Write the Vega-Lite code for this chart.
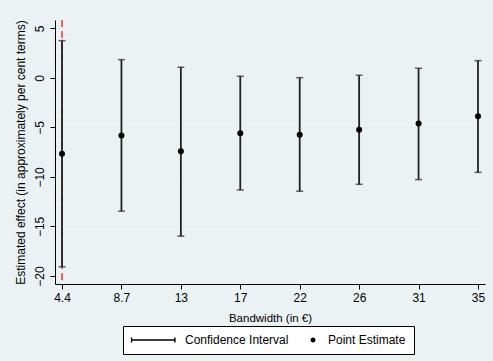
{
  "$schema": "https://vega.github.io/schema/vega-lite/v6.json",
  "width": 430,
  "height": 264,
  "autosize": {"type": "none"},
  "padding": {"left": 55, "top": 20, "right": 8, "bottom": 77},
  "background": "#EAF2F3",
  "config": {
    "view": {"fill": "white", "stroke": null},
    "font": "Liberation Sans",
    "axis": {
      "domainColor": "#000000",
      "domainWidth": 1,
      "tickColor": "#000000",
      "tickSize": 5,
      "labelColor": "#000000",
      "titleColor": "#000000",
      "labelFontSize": 12,
      "titleFontSize": 11.5,
      "titleFontWeight": "normal"
    }
  },
  "data": {
    "values": [
      {"bw": "4.4", "est": -7.65, "lo": -19.07, "hi": 3.76},
      {"bw": "8.7", "est": -5.81, "lo": -13.46, "hi": 1.84},
      {"bw": "13", "est": -7.42, "lo": -15.98, "hi": 1.07},
      {"bw": "17", "est": -5.58, "lo": -11.32, "hi": 0.16},
      {"bw": "22", "est": -5.74, "lo": -11.45, "hi": 0.02},
      {"bw": "26", "est": -5.24, "lo": -10.75, "hi": 0.26},
      {"bw": "31", "est": -4.6, "lo": -10.27, "hi": 0.97},
      {"bw": "35", "est": -3.87, "lo": -9.54, "hi": 1.74}
    ]
  },
  "layer": [
    {
      "data": {"values": [{"bw": "4.4"}]},
      "mark": {"type": "rule", "color": "#FF0000", "strokeDash": [7, 4], "strokeWidth": 1.2},
      "encoding": {
        "x": {
          "field": "bw", "type": "ordinal", "sort": null,
          "scale": {"type": "point", "padding": 0.118, "domain": ["4.4", "8.7", "13", "17", "22", "26", "31", "35"]},
          "axis": {"title": "Bandwidth (in €)", "labelAngle": 0, "labelPadding": 3, "titlePadding": 9, "grid": false}
        }
      }
    },
    {
      "mark": {"type": "rule", "color": "#222222", "strokeWidth": 1.8},
      "encoding": {
        "x": {"field": "bw", "type": "ordinal", "sort": null},
        "y": {
          "field": "lo", "type": "quantitative",
          "scale": {"domain": [-20.81, 5.84], "nice": false, "zero": false},
          "axis": {
            "title": "Estimated effect (in approximately per cent terms)",
            "titleFontSize": 12,
            "values": [-20, -15, -10, -5, 0, 5],
            "labelAngle": 270, "labelAlign": "center", "labelBaseline": "bottom",
            "labelPadding": 4, "titlePadding": 6,
            "grid": true, "gridColor": "#E6EEF0", "gridWidth": 1
          }
        },
        "y2": {"field": "hi"}
      }
    },
    {
      "mark": {"type": "tick", "color": "#222222", "size": 7, "thickness": 1.5, "orient": "horizontal"},
      "encoding": {
        "x": {"field": "bw", "type": "ordinal", "sort": null},
        "y": {"field": "lo", "type": "quantitative"}
      }
    },
    {
      "mark": {"type": "tick", "color": "#222222", "size": 7, "thickness": 1.5, "orient": "horizontal"},
      "encoding": {
        "x": {"field": "bw", "type": "ordinal", "sort": null},
        "y": {"field": "hi", "type": "quantitative"}
      }
    },
    {
      "mark": {"type": "point", "filled": true, "color": "#000000", "size": 36, "opacity": 1},
      "encoding": {
        "x": {"field": "bw", "type": "ordinal", "sort": null},
        "y": {"field": "est", "type": "quantitative"}
      }
    },
    {
      "transform": [{"filter": "false"}, {"calculate": "'Point Estimate'", "as": "series"}],
      "mark": {"type": "point", "filled": true, "color": "#000000", "opacity": 1},
      "encoding": {
        "shape": {
          "field": "series", "type": "nominal",
          "scale": {
            "domain": ["Confidence Interval", "Point Estimate"],
            "range": [
              "M-7,-0.12H1V0.12H-7ZM-7,-0.45H-6.75V0.45H-7ZM0.75,-0.45H1V0.45H0.75Z",
              "M0.45,0A0.45,0.45 0 1,1 -0.45,0A0.45,0.45 0 1,1 0.45,0Z"
            ]
          },
          "legend": {
            "title": ".",
            "titleOrient": "left",
            "titleFontSize": 12,
            "titleOpacity": 0,
            "titlePadding": 29,
            "orient": "none",
            "legendX": 68,
            "legendY": 306,
            "direction": "horizontal",
            "strokeColor": "#000000",
            "fillColor": "#FFFFFF",
            "padding": 8,
            "symbolSize": 125,
            "labelOffset": 9,
            "labelFontSize": 12,
            "labelColor": "#000000",
            "columnPadding": 18,
            "symbolFillColor": "#000000",
            "symbolStrokeColor": "#000000",
            "symbolStrokeWidth": 0,
            "encode": {
              "symbols": {"update": {"fill": {"value": "#000000"}, "opacity": {"value": 1}, "fillOpacity": {"value": 1}}}
            }
          }
        }
      }
    }
  ]
}
